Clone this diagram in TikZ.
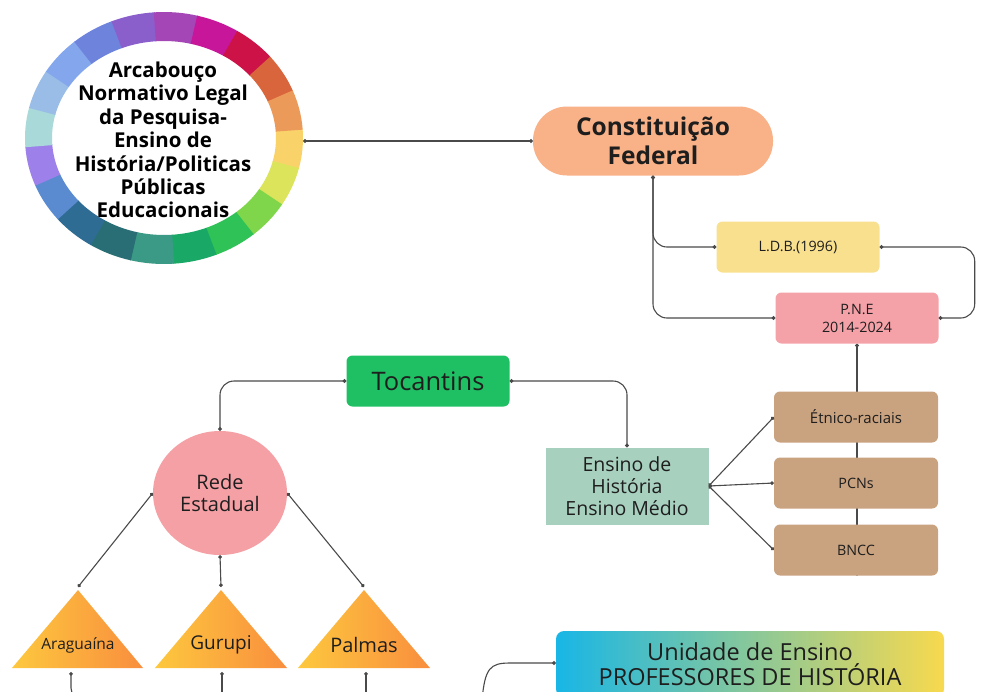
\documentclass[tikz,border=0pt]{standalone}
\usepackage{fontspec}
\setmainfont{Open Sans}
\usetikzlibrary{arrows.meta,shapes.geometric,calc}
\pgfdeclarelayer{background}
\pgfsetlayers{background,main}
\definecolor{linec}{HTML}{4A4A4A}
\definecolor{txt}{HTML}{1E1E1E}
\definecolor{cfc}{HTML}{F9B187}
\definecolor{ldbc}{HTML}{F9E08E}
\definecolor{pnec}{HTML}{F5A1A8}
\definecolor{tocc}{HTML}{1FC063}
\definecolor{ensc}{HTML}{A8D0BF}
\definecolor{tanc}{HTML}{C9A27F}
\definecolor{redec}{HTML}{F4A0A5}
\definecolor{triL}{HTML}{FDC83E}
\definecolor{triR}{HTML}{F98E3E}
\definecolor{uniL}{HTML}{18B6E6}
\definecolor{uniR}{HTML}{F8D94E}
\tikzset{
  con/.style={draw=linec, line width=1.1pt, {Circle[length=3.6pt]}-{Circle[length=3.6pt]}, rounded corners=14pt},
  conS/.style={draw=linec, line width=1.1pt, {Circle[length=3.6pt]}-, rounded corners=12pt},
  conE/.style={draw=linec, line width=1.1pt, -{Circle[length=3.6pt]}},
  rbox/.style={rounded corners=6pt, inner sep=0pt, align=center, text=txt, minimum width=163pt, minimum height=51pt},
  small/.style={font=\fontsize{14.3}{18}\selectfont},
  tri/.style={left color=triL, right color=triR, draw=none},
}
\begin{document}
\begin{tikzpicture}[x=1pt,y=-1pt]
\useasboundingbox (0,0) rectangle (981,691);
\clip (0,0) rectangle (981,691);
% colour ring
\foreach \a/\c in {5/F9D36A,23/DBE45A,41/7FD64A,59/2FC257,77/1AA866,95/3A9A86,113/286E74,131/2F6C94,149/5A8BD0,167/9D80EA,185/A9D9D9,203/99BDE6,221/83A6EC,239/6E84DC,257/8A5FCC,275/A446B6,293/C8169A,311/CC1246,329/D9653C,347/EC9A5A}{
  \definecolor{segc}{HTML}{\c}
  \fill[segc] ($(164,138)+(\a-9.2:139 and 126)$) arc[start angle=\a-9.2, end angle=\a+9.2, x radius=139, y radius=126]
    -- ($(164,138)+(\a+9.2:112 and 97)$) arc[start angle=\a+9.2, end angle=\a-9.2, x radius=112, y radius=97] -- cycle;
}
\node[ellipse, minimum width=278pt, minimum height=252pt, inner sep=0pt] (ring) at (164,138) {};
\node[align=center, text=black, font=\bfseries\fontsize{20.5}{23.4}\selectfont] (ringtxt) at (163,140)
  {Arcabouço\\Normativo Legal\\da Pesquisa-\\Ensino de\\História/Politicas\\Públicas\\Educacionais};
% nodes
\node[rbox, fill=cfc, rounded corners=34pt, minimum width=240pt, minimum height=69pt, font=\bfseries\fontsize{24.5}{29}\selectfont] (cf) at (653,141) {Constituição\\Federal};
\node[rbox, fill=ldbc, small] (ldb) at (798,247) {L.D.B.(1996)};
\node[rbox, fill=pnec, small] (pne) at (857,318) {P.N.E\\2014-2024};
\node[rbox, fill=tocc, font=\fontsize{25.5}{28}\selectfont] (toc) at (428,381) {Tocantins};
\node[rbox, fill=ensc, rounded corners=0pt, minimum height=77pt, font=\fontsize{19.5}{21.8}\selectfont] (ens) at (627,486) {Ensino de\\História\\Ensino Médio};
\node[rbox, fill=tanc, font=\fontsize{15}{18}\selectfont, minimum width=164pt] (etn) at (856,417) {Étnico-raciais};
\node[rbox, fill=tanc, small, minimum width=164pt] (pcn) at (856,483) {PCNs};
\node[rbox, fill=tanc, small, minimum width=164pt] (bncc) at (856,550) {BNCC};
\node[ellipse, fill=redec, minimum width=134pt, minimum height=124pt, inner sep=0pt, align=center, text=txt, font=\fontsize{20}{22}\selectfont] (rede) at (220,493) {Rede\\Estadual};
% triangles
\shade[tri] (12,668) -- (78,590) -- (143,668) -- cycle;
\shade[tri] (155,668) -- (221,590) -- (287,668) -- cycle;
\shade[tri] (298,668) -- (364,590) -- (430,668) -- cycle;
\node[text=txt, font=\fontsize{15.5}{18}\selectfont] (ara) at (78,645) {Araguaína};
\node[text=txt, font=\fontsize{19}{22}\selectfont] (gur) at (221,645) {Gurupi};
\node[text=txt, font=\fontsize{20}{22}\selectfont] (pal) at (364,645) {Palmas};
\coordinate (araTop) at (78,587);
\coordinate (gurTop) at (221,587);
\coordinate (palTop) at (364,587);
\coordinate (araBot) at (71,672);
\coordinate (gurBot) at (222,672);
\coordinate (palBot) at (366,672);
\coordinate (araEnd) at (160,700);
\coordinate (gurEnd) at (222,700);
\coordinate (palEnd) at (366,700);
\coordinate (uniStart) at (482,700);
% unidade
\node[rounded corners=8pt, left color=uniL, right color=uniR, minimum width=388pt, minimum height=66pt, inner sep=0pt, align=center, text=txt, font=\fontsize{23.5}{25.5}\selectfont] (uni) at (750,664) {Unidade de Ensino\\PROFESSORES DE HISTÓRIA};
% connectors
\begin{pgfonlayer}{background}
\draw[con] (pne.south) -- (pne.south |- bncc.south);
\end{pgfonlayer}
\draw[con] (ring.east |- cf.west) -- (cf.west);
\draw[con] (cf.south) |- (ldb.west);
\draw[con] (cf.south) |- (pne.west);
\draw[con] (ldb.east) -- ++(95,0) |- (pne.east);
\draw[con] (toc.west) -| (rede.north);
\draw[con] (toc.east) -| (ens.north);
\draw[con] (ens.east) -- (etn.west);
\draw[con] (ens.east) -- (pcn.west);
\draw[con] (ens.east) -- (bncc.west);
\draw[con] (rede.west) -- (araTop);
\draw[con] (rede.south) -- (gurTop);
\draw[con] (rede.east) -- (palTop);
\draw[conS] (araBot) |- (araEnd);
\draw[conS] (gurBot) -- (gurEnd);
\draw[conS] (palBot) -- (palEnd);
\draw[conE] (uniStart) .. controls (485,668) and (490,663) .. (510,663) -- (uni.west |- 0,663);
\end{tikzpicture}
\end{document}
